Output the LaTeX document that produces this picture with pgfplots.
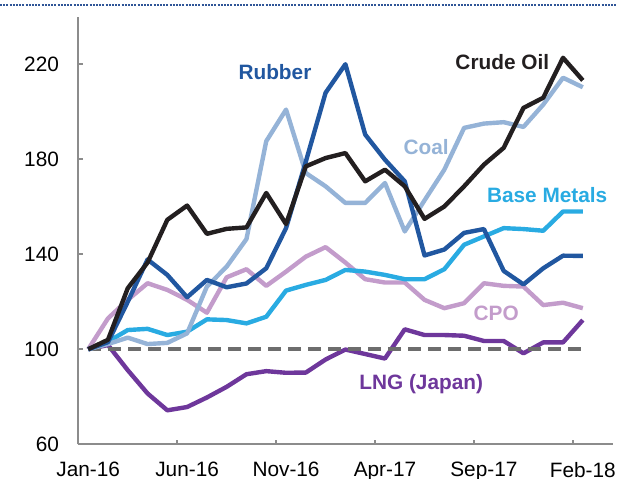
\documentclass[border=0pt]{standalone}
\usepackage{fontspec}
\setmainfont{Liberation Sans}
\usepackage{pgfplots}
\usepackage{pgfplotstable}
\pgfplotsset{compat=1.18}
\definecolor{crude}{HTML}{231F20}
\definecolor{rubber}{HTML}{2157A0}
\definecolor{coal}{HTML}{95B3D7}
\definecolor{metals}{HTML}{29ABE2}
\definecolor{cpo}{HTML}{C39CCB}
\definecolor{lng}{HTML}{6E379B}
\definecolor{dashgrey}{HTML}{6D6D6D}
\definecolor{axisgrey}{HTML}{8C8C8C}
\definecolor{topline}{HTML}{2F5597}

\pgfplotstableread{
k crude rubber coal metals cpo lng
0 100 100 100 100 100 100
1 104 103 102.2 103.2 113 101.8
2 125.7 120 104.9 108.1 120.8 91.2
3 136.5 137.8 102.2 108.6 127.8 81.4
4 154.5 131.3 102.7 106 125 74.3
5 160.5 121.9 106.7 107.4 120.8 75.7
6 148.6 129.2 126.4 112.6 115.4 79.7
7 150.7 126.1 134.8 112.3 130.3 84.2
8 151.3 127.7 146.4 110.9 133.7 89.5
9 165.8 134.1 187.6 113.7 126.7 90.8
10 152.7 151 200.9 124.7 132.7 90.1
11 177 179 174.2 127.1 139 90.2
12 180.5 208 168.6 129.2 143 95.7
13 182.6 220 161.6 133.4 136.5 99.9
14 170.7 190.4 161.6 132.7 129.5 98
15 175.6 179.8 170 131.3 128.1 96.1
16 168.6 170.7 149.6 129.5 128.1 108.4
17 154.9 139.5 162.7 129.5 120.8 106
18 160.1 142 175.6 133.7 117.3 106
19 168.6 149 193.2 144 119.4 105.7
20 177.7 150.6 195 147.5 127.8 103.5
21 184.8 133 195.6 151 126.7 103.5
22 201.6 127.3 193.6 150.6 126.4 98.3
23 205.9 134.1 203 149.9 118.6 102.9
24 222.7 139.4 214.3 158 119.6 102.9
25 213.2 139.3 210.3 158 117.3 112.3
}\datatable

\begin{document}
\begin{tikzpicture}
\useasboundingbox (0,0) rectangle (308.5pt,239pt);
\draw[topline, line width=0.8pt, dash pattern=on 1pt off 0.6pt] (0,236.5pt) -- (308.5pt,236.5pt);
\begin{axis}[
  at={(39.15pt,16.85pt)}, anchor=south west,
  scale only axis, width=267.1pt, height=213.8pt,
  xmin=-0.5, xmax=26.5, ymin=60, ymax=240,
  clip=false,
  axis x line*=bottom, axis y line*=left,
  axis line style={axisgrey, line width=0.85pt, -},
  tick align=inside,
  major tick length=2.3pt,
  tick style={axisgrey, line width=0.85pt},
  xtick={4.5,9.5,14.5,19.5,24.5},
  xticklabels={},
  extra x ticks={0,5,10,15,20,25},
  extra x tick labels={Jan-16,Jun-16,Nov-16,Apr-17,Sep-17,Feb-18},
  extra x tick style={major tick length=0pt},
  ytick={60,100,140,180,220},
  /pgf/number format/assume math mode=true,
  ticklabel style={font=\fontsize{10.4}{12}\selectfont, text=black},
  yticklabel style={inner sep=0pt, anchor=east, xshift=-9.5pt},
  xticklabel style={inner sep=0pt, anchor=north, yshift=-8.7pt},
  line join=round,
]
\addplot[lng, line width=2.2pt] table[x=k, y=lng] {\datatable};
\addplot[dashgrey, line width=2pt, dash pattern=on 6.5pt off 3.5pt] coordinates {(0,100) (25,100)};
\addplot[cpo, line width=2.2pt] table[x=k, y=cpo] {\datatable};
\addplot[metals, line width=2.2pt] table[x=k, y=metals] {\datatable};
\addplot[coal, line width=2.2pt] table[x=k, y=coal] {\datatable};
\addplot[rubber, line width=2.2pt] table[x=k, y=rubber] {\datatable};
\addplot[crude, line width=2.2pt] table[x=k, y=crude] {\datatable};

\node[font=\bfseries\fontsize{10.4}{12}\selectfont, text=rubber] at (axis cs:9.44,216.5) {Rubber};
\node[font=\bfseries\fontsize{10.4}{12}\selectfont, text=crude] at (axis cs:20.93,220.8) {Crude Oil};
\node[font=\bfseries\fontsize{10.4}{12}\selectfont, text=coal] at (axis cs:17.08,185.3) {Coal};
\node[font=\bfseries\fontsize{10.4}{12}\selectfont, text=metals] at (axis cs:23.2,165.1) {Base Metals};
\node[font=\bfseries\fontsize{10.4}{12}\selectfont, text=cpo] at (axis cs:20.62,115.3) {CPO};
\node[font=\bfseries\fontsize{10.4}{12}\selectfont, text=lng] at (axis cs:16.83,85.3) {LNG (Japan)};
\end{axis}
\end{tikzpicture}
\end{document}
